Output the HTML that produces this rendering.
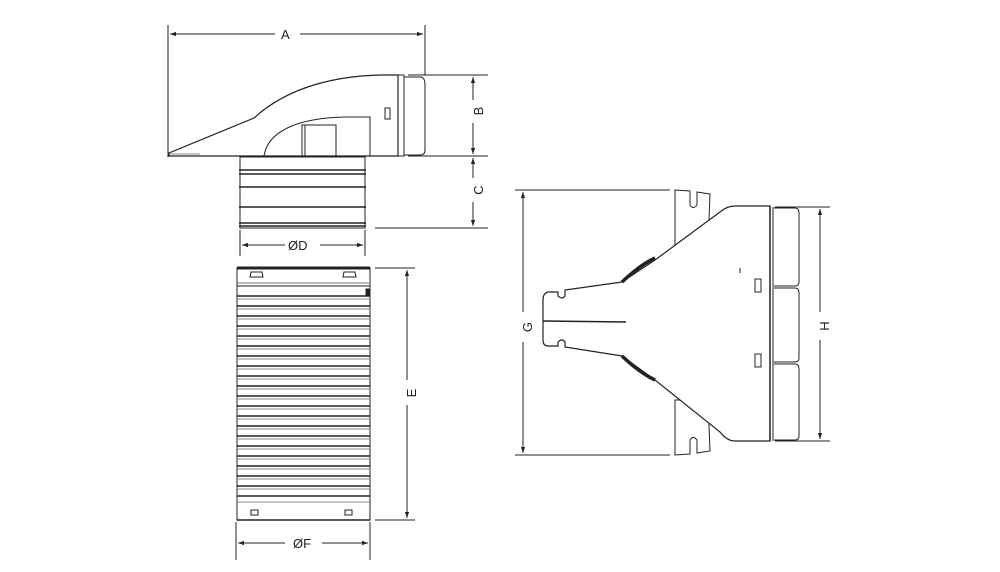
<!DOCTYPE html>
<html><head><meta charset="utf-8"><style>
html,body{margin:0;padding:0;background:#fff;}
svg{display:block;}
text{font-family:"Liberation Sans",sans-serif;font-size:13px;fill:#222;}
</style></head><body>
<svg width="1000" height="572" viewBox="0 0 1000 572" xmlns="http://www.w3.org/2000/svg">
<defs>
<marker id="ar" viewBox="0 0 10 10" refX="10" refY="5" markerWidth="9" markerHeight="6" orient="auto-start-reverse"><path d="M0,1.5 L10,5 L0,8.5 z" fill="#222"/></marker>
</defs>
<g stroke="#222" stroke-width="1" fill="none">
<!-- A dimension -->
<line x1="168" y1="25" x2="168" y2="157"/>
<line x1="425" y1="25" x2="425" y2="75"/>
<line x1="170" y1="34" x2="275" y2="34" marker-start="url(#ar)"/>
<line x1="300" y1="34" x2="423" y2="34" marker-end="url(#ar)"/>
<!-- hood -->
<path d="M169,156 L169,153 L254,118 C290,85 340,76 380,75 L398,75 L398,156 Z" fill="#fff" stroke-width="1.2"/>
<path d="M398,75 L404,75 L404,156 L398,156"/>
<path d="M404,77 L420,77 Q425,77 425,85 L425,150 Q425,155 420,155 L404,155"/>
<path d="M264,156 C268,130 300,118 345,117 L370,117 L370,156"/>
<rect x="302" y="125" width="34" height="31"/>
<line x1="305" y1="125" x2="305" y2="156"/>
<rect x="385" y="108" width="5" height="11"/>
<line x1="170" y1="154" x2="200" y2="154" stroke="#888"/>
<!-- neck -->
<rect x="240" y="157" width="125" height="71" fill="#fff"/>
<g stroke-width="1.6">
<line x1="239" y1="170" x2="366" y2="170"/><line x1="239" y1="174" x2="366" y2="174"/>
<line x1="239" y1="187" x2="366" y2="187"/>
<line x1="239" y1="207" x2="366" y2="207"/>
<line x1="239" y1="223" x2="366" y2="223"/><line x1="239" y1="226" x2="366" y2="226"/>
</g>
<!-- B C -->
<line x1="408" y1="75" x2="488" y2="75"/>
<line x1="408" y1="156" x2="488" y2="156"/>
<line x1="375" y1="228" x2="488" y2="228"/>
<line x1="473" y1="77" x2="473" y2="100" marker-start="url(#ar)"/>
<line x1="473" y1="123" x2="473" y2="154" marker-end="url(#ar)"/>
<line x1="473" y1="158" x2="473" y2="178" marker-start="url(#ar)"/>
<line x1="473" y1="202" x2="473" y2="226" marker-end="url(#ar)"/>
<!-- ØD -->
<line x1="240" y1="230" x2="240" y2="256"/>
<line x1="365" y1="230" x2="365" y2="256"/>
<line x1="242" y1="245" x2="285" y2="245" marker-start="url(#ar)"/>
<line x1="320" y1="245" x2="363" y2="245" marker-end="url(#ar)"/>
<!-- flexible duct -->
<rect x="237" y="268" width="133" height="252" fill="#fff"/>
<line x1="237" y1="268" x2="370" y2="268" stroke-width="3"/>
<path d="M251,272 L262,272 L263,277 L250,277 Z"/>
<path d="M344,272 L355,272 L356,277 L343,277 Z"/>
<line x1="237" y1="283" x2="370" y2="283" stroke="#777"/>
<line x1="237" y1="286" x2="370" y2="286"/>
<rect x="366" y="289" width="3" height="6" fill="#222"/>
<g id="ribs">
<line x1="237" y1="296" x2="370" y2="296" stroke-width="1.4"/><line x1="237" y1="299" x2="370" y2="299" stroke="#888"/>
<line x1="237" y1="306" x2="370" y2="306" stroke-width="1.4"/><line x1="237" y1="309" x2="370" y2="309" stroke="#888"/>
<line x1="237" y1="316" x2="370" y2="316" stroke-width="1.4"/><line x1="237" y1="319" x2="370" y2="319" stroke="#888"/>
<line x1="237" y1="326" x2="370" y2="326" stroke-width="1.4"/><line x1="237" y1="329" x2="370" y2="329" stroke="#888"/>
<line x1="237" y1="336" x2="370" y2="336" stroke-width="1.4"/><line x1="237" y1="339" x2="370" y2="339" stroke="#888"/>
<line x1="237" y1="346" x2="370" y2="346" stroke-width="1.4"/><line x1="237" y1="349" x2="370" y2="349" stroke="#888"/>
<line x1="237" y1="356" x2="370" y2="356" stroke-width="1.4"/><line x1="237" y1="359" x2="370" y2="359" stroke="#888"/>
<line x1="237" y1="366" x2="370" y2="366" stroke-width="1.4"/><line x1="237" y1="369" x2="370" y2="369" stroke="#888"/>
<line x1="237" y1="376" x2="370" y2="376" stroke-width="1.4"/><line x1="237" y1="379" x2="370" y2="379" stroke="#888"/>
<line x1="237" y1="386" x2="370" y2="386" stroke-width="1.4"/><line x1="237" y1="389" x2="370" y2="389" stroke="#888"/>
<line x1="237" y1="396" x2="370" y2="396" stroke-width="1.4"/><line x1="237" y1="399" x2="370" y2="399" stroke="#888"/>
<line x1="237" y1="406" x2="370" y2="406" stroke-width="1.4"/><line x1="237" y1="409" x2="370" y2="409" stroke="#888"/>
<line x1="237" y1="416" x2="370" y2="416" stroke-width="1.4"/><line x1="237" y1="419" x2="370" y2="419" stroke="#888"/>
<line x1="237" y1="426" x2="370" y2="426" stroke-width="1.4"/><line x1="237" y1="429" x2="370" y2="429" stroke="#888"/>
<line x1="237" y1="436" x2="370" y2="436" stroke-width="1.4"/><line x1="237" y1="439" x2="370" y2="439" stroke="#888"/>
<line x1="237" y1="446" x2="370" y2="446" stroke-width="1.4"/><line x1="237" y1="449" x2="370" y2="449" stroke="#888"/>
<line x1="237" y1="456" x2="370" y2="456" stroke-width="1.4"/><line x1="237" y1="459" x2="370" y2="459" stroke="#888"/>
<line x1="237" y1="466" x2="370" y2="466" stroke-width="1.4"/><line x1="237" y1="469" x2="370" y2="469" stroke="#888"/>
<line x1="237" y1="476" x2="370" y2="476" stroke-width="1.4"/><line x1="237" y1="479" x2="370" y2="479" stroke="#888"/>
<line x1="237" y1="486" x2="370" y2="486" stroke-width="1.4"/><line x1="237" y1="489" x2="370" y2="489" stroke="#888"/>
<line x1="237" y1="496" x2="370" y2="496" stroke-width="1.4"/>
</g>
<line x1="237" y1="502" x2="370" y2="502" stroke="#888"/>
<rect x="251" y="510" width="7" height="5"/>
<rect x="345" y="510" width="7" height="5"/>
<line x1="237" y1="520" x2="370" y2="520" stroke-width="1.6"/>
<!-- E -->
<line x1="375" y1="268" x2="415" y2="268"/>
<line x1="375" y1="520" x2="415" y2="520"/>
<line x1="407" y1="270" x2="407" y2="380" marker-start="url(#ar)"/>
<line x1="407" y1="405" x2="407" y2="518" marker-end="url(#ar)"/>
<!-- ØF -->
<line x1="236" y1="522" x2="236" y2="560"/>
<line x1="370" y1="522" x2="370" y2="560"/>
<line x1="238" y1="543" x2="285" y2="543" marker-start="url(#ar)"/>
<line x1="322" y1="543" x2="368" y2="543" marker-end="url(#ar)"/>

<!-- right view -->
<line x1="515" y1="190" x2="670" y2="190"/>
<line x1="515" y1="455" x2="670" y2="455"/>
<line x1="523" y1="192" x2="523" y2="312" marker-start="url(#ar)"/>
<line x1="523" y1="342" x2="523" y2="453" marker-end="url(#ar)"/>
<!-- brackets -->
<path d="M675,190 L675,245 L708,245 L710,194 L697,192 L697,205 Q693,210 690,205 L690,191 Z" fill="#fff"/>
<path d="M675,455 L675,400 L708,400 L710,451 L697,453 L697,440 Q693,435 690,440 L690,454 Z" fill="#fff"/>
<!-- body -->
<path d="M770,206 L735,206 Q727,206 720,212 L655,260 L622,282 L565,290 L565,296 Q562,300 558,296 L558,292 L548,292 Q543,293 543,300 L543,340 Q543,346 548,346 L558,346 L558,342 Q562,338 565,342 L565,347 L622,356 L655,380 L720,432 Q727,441 735,441 L770,441 Z" fill="#fff" stroke-width="1.2"/>
<path d="M622,282 Q640,265 655,258" stroke-width="3.5"/>
<path d="M622,356 Q640,373 655,380" stroke-width="3.5"/>
<line x1="543" y1="321" x2="626" y2="322" stroke-width="1.5"/>
<line x1="770" y1="206" x2="770" y2="441" stroke-width="1.4"/>
<line x1="773" y1="207" x2="773" y2="441"/>
<path d="M774,208 L795,208 Q799,208 799,213 L799,282 Q799,286 795,286 L774,286"/>
<path d="M774,288 L795,288 Q799,288 799,293 L799,358 Q799,362 795,362 L774,362"/>
<path d="M774,364 L795,364 Q799,364 799,369 L799,436 Q799,440 795,440 L774,440"/>
<rect x="755" y="279" width="6" height="13"/>
<rect x="755" y="354" width="6" height="13"/>
<line x1="740" y1="268" x2="740" y2="273"/>
<!-- H -->
<line x1="775" y1="207" x2="830" y2="207"/>
<line x1="775" y1="441" x2="830" y2="441"/>
<line x1="820" y1="209" x2="820" y2="312" marker-start="url(#ar)"/>
<line x1="820" y1="340" x2="820" y2="439" marker-end="url(#ar)"/>
</g>
<text x="281" y="39">A</text>
<text x="288" y="250">ØD</text>
<text x="293" y="548">ØF</text>
<text transform="translate(478,111) rotate(-90)" text-anchor="middle" dy="5">B</text>
<text transform="translate(478,190) rotate(-90)" text-anchor="middle" dy="5">C</text>
<text transform="translate(411,393) rotate(-90)" text-anchor="middle" dy="5">E</text>
<text transform="translate(527,327) rotate(-90)" text-anchor="middle" dy="5">G</text>
<text transform="translate(824,326) rotate(-90)" text-anchor="middle" dy="5">H</text>
</svg>
</body></html>
